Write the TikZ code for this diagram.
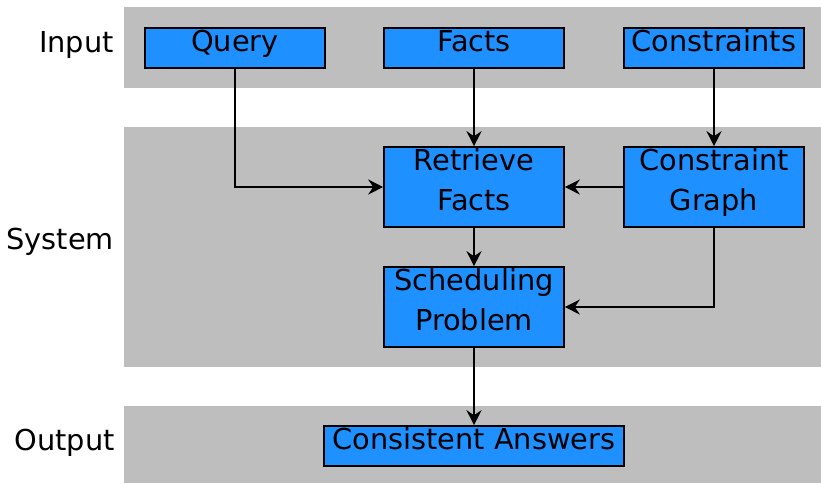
\documentclass[tikz,border=0pt]{standalone}
\usepackage{fontspec}
\setmainfont{DejaVu Sans}
\usetikzlibrary{arrows.meta}
\definecolor{bandgray}{RGB}{190,190,190}
\definecolor{boxblue}{RGB}{30,144,255}
\newcommand{\boxstrut}{\rule[-16.5pt]{0pt}{40pt}}
\tikzset{blk/.style={rectangle,draw,fill=boxblue,line width=1.6pt,inner sep=0pt,minimum width=180pt,minimum height=40pt,align=center,font=\fontsize{28.8}{40}\selectfont}}
\tikzset{band/.style={fill=bandgray},lvl/.style={anchor=base east,inner sep=0pt,font=\fontsize{28.8}{40}\selectfont}}
\tikzset{flow/.style={line width=1.8pt,-{Stealth[length=15pt,width=15pt,inset=5pt]}}}
\begin{document}
\begin{tikzpicture}[x=1pt,y=-1pt]
      \useasboundingbox (0,0) rectangle (821,483);
      \fill[band] (124,7) rectangle (821,88);
      \fill[band] (124,127) rectangle (821,367);
      \fill[band] (124,406) rectangle (821,483);
      \node[lvl] (linput) at (114,52) {Input};
      \node[lvl] (lsystem) at (114,249) {System};
      \node[lvl] (loutput) at (115,450) {Output};
      \node[blk] (query) at (235,48) {\boxstrut Query};
      \node[blk] (facts) at (474,48) {\boxstrut Facts};
      \node[blk] (constraints) at (714,48) {\boxstrut Constraints};
      \node[blk] (retrieve) at (474,187) {\boxstrut Retrieve\\\boxstrut Facts};
      \node[blk] (cgraph) at (714,187) {\boxstrut Constraint\\\boxstrut Graph};
      \node[blk] (sched) at (474,307) {\boxstrut Scheduling\\\boxstrut Problem};
      \node[blk,minimum width=300pt] (answers) at (474,446) {\boxstrut Consistent Answers};
      \draw[flow] (query) |- (retrieve);
      \draw[flow] (facts) -- (retrieve);
      \draw[flow] (constraints) -- (cgraph);
      \draw[flow] (cgraph) -- (retrieve);
      \draw[flow] (retrieve) -- (sched);
      \draw[flow] (cgraph) |- (sched);
      \draw[flow] (sched) -- (answers);
    \end{tikzpicture}
\end{document}
